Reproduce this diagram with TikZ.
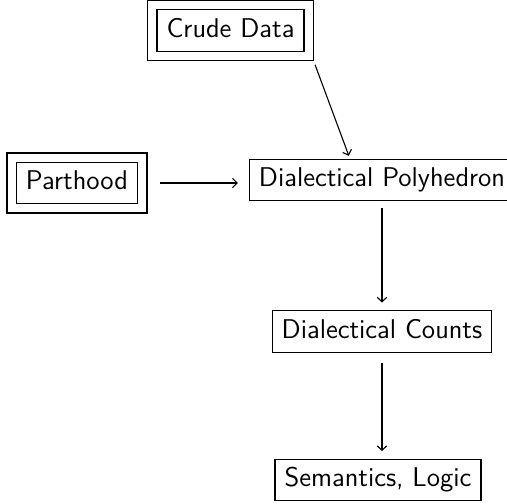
\documentclass[tikz,border=0pt]{standalone}
\usetikzlibrary{positioning,arrows.meta}

\begin{document}
\begin{tikzpicture} [x=0.45pt, y=-0.45pt, >={Straight Barb[length=2pt,width=4.2pt]}, line width=0.5pt, box/.style={rectangle, draw, inner xsep=4.3pt, inner ysep=3.7pt, text height=1.6ex, text depth=.45ex}]
{\sffamily\fontsize{12.2pt}{14pt}\selectfont
	\useasboundingbox (0,0) rectangle (507,504);

	\node [box] (crude) at (230.5,30.5) {Crude Data};
	\node [box] (parthood) at (77,183) {Parthood};
	\node [box] (polyhedron) at (382,180) {Dialectical Polyhedron};
	\node [box] (counts) at (382,331.5) {Dialectical Counts};
	\node [box] (semantics) at (378,480) {Semantics, Logic};

	% outer frames
	\draw ([shift={(-4pt,-4pt)}]crude.south west) rectangle ([shift={(4pt,4pt)}]crude.north east);
	\draw ([shift={(-4pt,-4pt)}]parthood.south west) rectangle ([shift={(4pt,4pt)}]parthood.north east);
	\coordinate (crude_corner) at ([shift={(4pt,-4pt)}]crude.south east);

	% draw edges
	\draw [->, shorten <=2pt, shorten >=1.5pt] (crude_corner) -- ([xshift=-14.4pt]polyhedron.north);
	\draw [->, shorten <=10pt, shorten >=5pt] (parthood) -- (parthood -| polyhedron.west);
	\draw [->, shorten <=3pt, shorten >=3.5pt] (polyhedron) -- (counts);
	\draw [->, shorten <=4.5pt, shorten >=3.5pt] (counts.south) -- (counts.south |- semantics.north);
}
\end{tikzpicture}
\end{document}
